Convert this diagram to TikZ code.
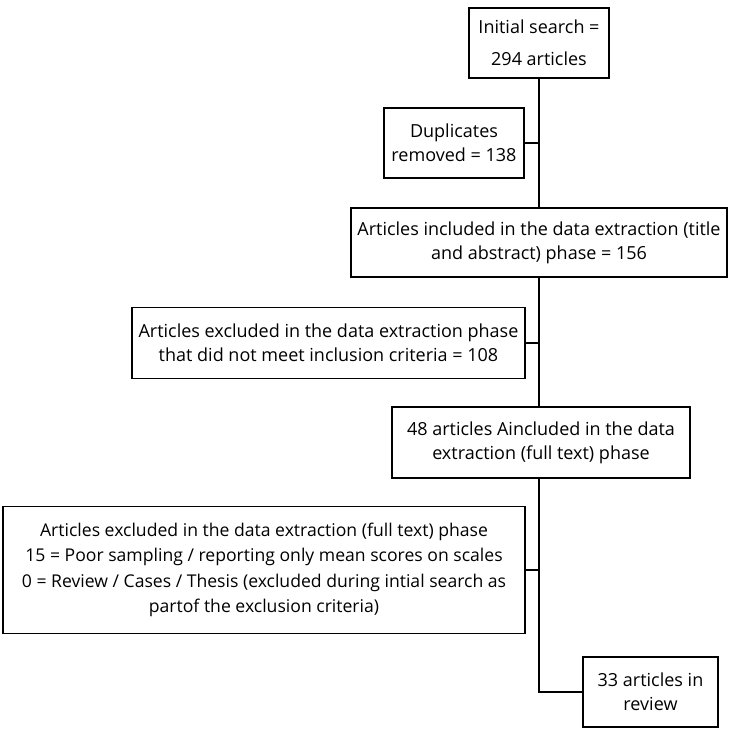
\documentclass[tikz,border=0pt]{standalone}
\usepackage{fontspec}
\setmainfont{Open Sans}
\usetikzlibrary{calc}

\tikzset{
  stagebox/.style={draw, line width=1.5pt, align=center, inner sep=2pt,
    font=\fontsize{18}{24}\selectfont},
  link/.style={line width=1.6pt}
}

\begin{document}
\begin{tikzpicture}[x=1pt,y=1pt,line cap=rect,line join=miter]
    \useasboundingbox (0,0) rectangle (733,740);

    % boxes
    \node[stagebox, minimum width=140pt, minimum height=70pt,
      font=\fontsize{18}{32}\selectfont] (init) at (539,697) {Initial search =\\294 articles};
    \node[stagebox, minimum width=140pt, minimum height=70pt] (dup) at (454,597) {Duplicates\\removed = 138};
    \node[stagebox, minimum width=376pt, minimum height=69pt] (incl) at (539,497.5)
      {Articles included in the data extraction (title\\and abstract) phase = 156};
    \node[stagebox, minimum width=393pt, minimum height=71pt] (excl) at (328.5,397)
      {Articles excluded in the data extraction phase\\that did not meet inclusion criteria = 108};
    \node[stagebox, minimum width=298pt, minimum height=71pt] (full) at (541,297.5)
      {48 articles Aincluded in the data\\extraction (full text) phase};
    \node[stagebox, minimum width=522pt, minimum height=127pt, inner sep=0pt,
      font=\fontsize{17.6}{25.5}\selectfont] (exfull) at (264,170)
      {Articles excluded in the data extraction (full text) phase\\
       15 = Poor sampling / reporting only mean scores on scales\\
       0 = Review / Cases / Thesis (excluded during intial search as\\
       partof the exclusion criteria)};
    \node[stagebox, minimum width=135pt, minimum height=70pt] (final) at (650.5,48)
      {33 articles in\\review};

    % trunk
    \draw[link] (init.south) -- (init.south |- incl.north);
    \draw[link] (init.south |- incl.south) -- (init.south |- full.north);
    \draw[link] (init.south |- full.south) |- (final.west);

    % side branches
    \draw[link] (dup.east) -- (dup.east -| init.south);
    \draw[link] (excl.east) -- (excl.east -| init.south);
    \draw[link] (exfull.east) -- (exfull.east -| init.south);
\end{tikzpicture}
\end{document}
